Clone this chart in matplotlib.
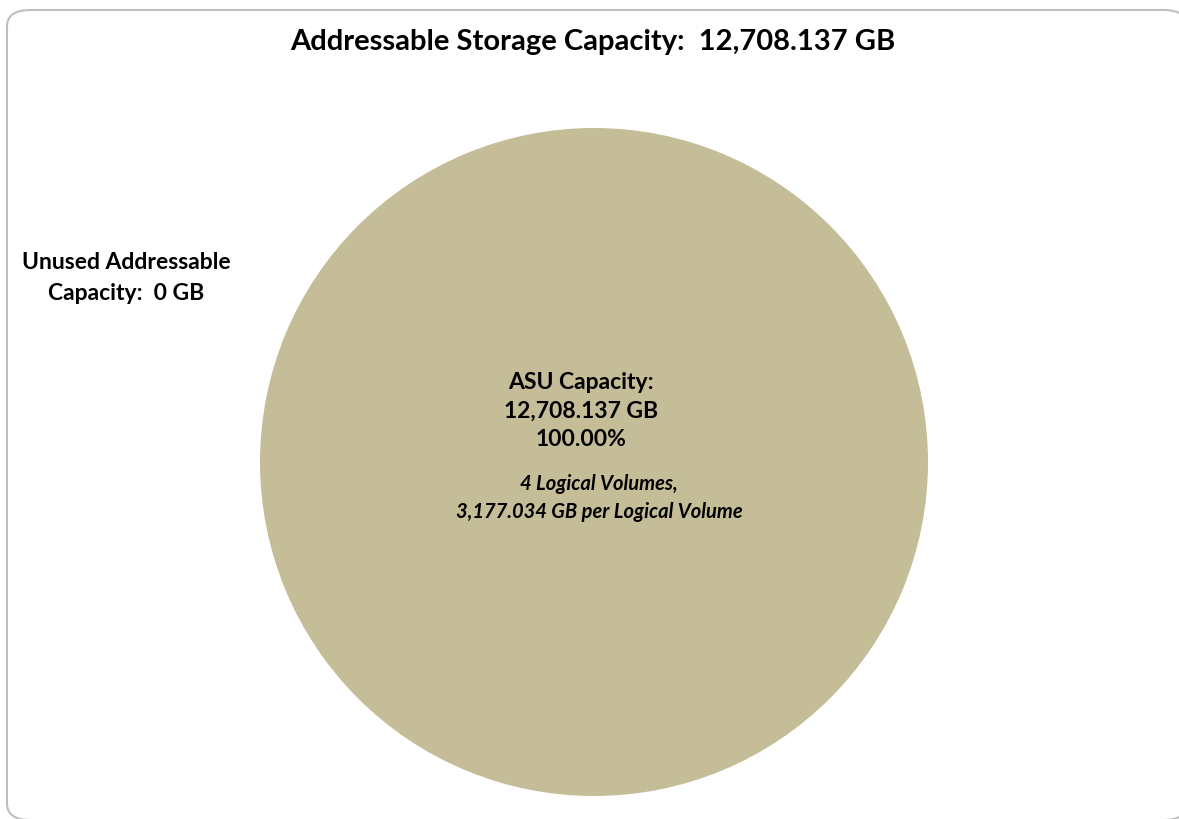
import matplotlib.pyplot as plt
from matplotlib.patches import FancyBboxPatch

# data
labels = ["ASU Capacity", "Unused Addressable Capacity"]
capacity_gb = [12708.137, 0.0]
colors = ["#C4BD97", "#8064A2"]
total_gb = 12708.137
n_volumes = 4
gb_per_volume = 3177.034

plt.rcParams['font.family'] = ['Lato', 'DejaVu Sans']

W, H = 1179, 819
fig = plt.figure(figsize=(W / 100, H / 100), dpi=100)

# marco redondeado (se corta a la derecha y abajo)
marco = FancyBboxPatch((7 / W, 1 - 820 / H), 1180 / W, 810 / H,
                       boxstyle="round,pad=0,rounding_size=0.02",
                       transform=fig.transFigure, facecolor="white",
                       edgecolor="#BFBFBF", linewidth=1.5, clip_on=False,
                       zorder=-1)
fig.patches.append(marco)

# pie centrado en (594, 462) con radio 334 px
cx, cy, r = 594, 462, 334
ax = fig.add_axes([(cx - r) / W, 1 - (cy + r) / H, 2 * r / W, 2 * r / H])
ax.pie(capacity_gb, colors=colors, startangle=90, counterclock=False,
       radius=1.0, wedgeprops=dict(linewidth=0))
ax.set_xlim(-1, 1)
ax.set_ylim(-1, 1)
ax.set_aspect('equal')
ax.axis('off')

def fy(y):
    return 1 - y / H

fig.text(593 / W, fy(42), f"Addressable Storage Capacity:  {total_gb:,.3f} GB",
         ha='center', va='center', fontsize=21, fontweight='bold')

pct = capacity_gb[0] / sum(capacity_gb) * 100
fig.text(581 / W, fy(411),
         f"ASU Capacity:\n{capacity_gb[0]:,.3f} GB\n{pct:.2f}%",
         ha='center', va='center', fontsize=16.5, fontweight='bold',
         linespacing=1.44)
fig.text(599 / W, fy(498),
         f"{n_volumes} Logical Volumes,\n{gb_per_volume:,.3f} GB per Logical Volume",
         ha='center', va='center', fontsize=14.5, fontweight='bold',
         style='italic', linespacing=1.45)

fig.text(126 / W, fy(278),
         f"Unused Addressable\nCapacity:  {capacity_gb[1]:.0f} GB",
         ha='center', va='center', fontsize=16.5, fontweight='bold',
         linespacing=1.57)

fig.savefig("out.png", dpi=100)
